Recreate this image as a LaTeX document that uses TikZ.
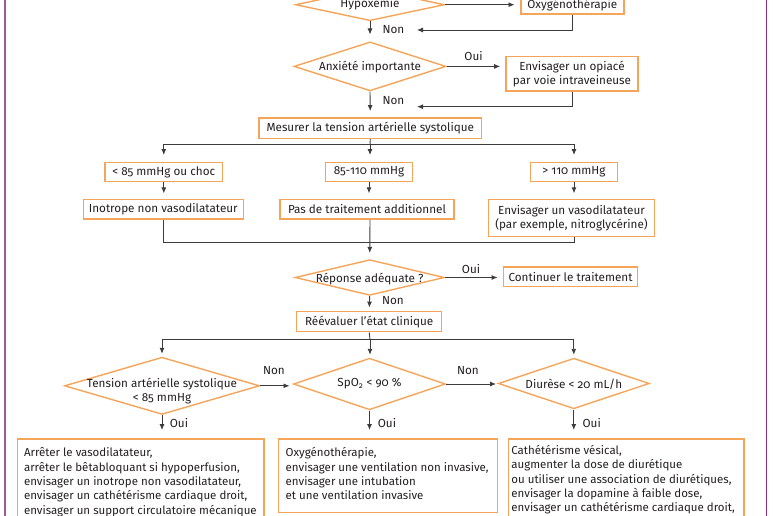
\documentclass[tikz,border=0pt]{standalone}
\usepackage{fontspec}
\setmainfont{Fira Sans}[Numbers=OldStyle]
\usetikzlibrary{shapes.geometric,arrows.meta}
\definecolor{org}{HTML}{F5A55A}
\definecolor{lnc}{HTML}{3C3C3C}
\definecolor{txt}{HTML}{231F20}
\definecolor{purL}{HTML}{9B5A9E}
\definecolor{purR}{HTML}{8B2F8E}
\newcommand{\ml}[1]{\mbox{#1}}
\begin{document}
\begin{tikzpicture}[x=1pt,y=-1pt,
  every node/.style={font=\fontsize{11.7}{14.4}\selectfont, text=txt},
  box/.style={draw=org, line width=1.4pt, inner sep=0pt, align=center},
  tbox/.style={draw=org, line width=1.4pt, anchor=north west, align=flush left, inner ysep=8.5pt, font=\fontsize{11.5}{14.4}\selectfont},
  dia/.style={diamond, draw=org, line width=1.4pt, inner sep=0pt},
  lbl/.style={inner sep=0pt, align=center},
  arr/.style={draw=lnc, line width=0.9pt, -{Latex[length=6pt,width=5pt]}},
  ln/.style={draw=lnc, line width=0.9pt},
]
\useasboundingbox (0,0) rectangle (773,516);
\clip (0,0) rectangle (773,516);
\draw[purL, line width=1.6pt] (5,0) -- (5,516);
\draw[purR, line width=1.3pt] (766.5,0) -- (766.5,516);

% top
\node[dia, minimum width=149pt, minimum height=32pt] (hyp) at (370,4.7) {};
\node[lbl] (hypt) at (370,4) {Hypoxémie};
\node[box, minimum width=103pt, minimum height=19pt] (oxy) at (572.4,4.7) {Oxygénothérapie};
\coordinate (r1) at (417,30);
\node[lbl] (non1) at (393.5,29.5) {Non};
\node[dia, minimum width=152pt, minimum height=49pt] (anx) at (370,66.4) {};
\node[lbl] (anxt) at (370,67) {Anxiété importante};
\node[lbl] (oui1) at (473.5,56.5) {Oui};
\node[box, minimum width=131.7pt, minimum height=34.3pt] (opi) at (572,73.8) {Envisager un opiacé\\par voie intraveineuse};
\coordinate (r2) at (417,106.7);
\node[lbl] (non2) at (393.5,100.5) {Non};
\node[box, minimum width=222.7pt, minimum height=20.3pt] (mes) at (370.3,128.2) {Mesurer la tension artérielle systolique};
\coordinate (j1) at (370,144.3);
\node[box, minimum width=117.3pt, minimum height=19.4pt] (lo) at (163.8,172) {< 85 mmHg ou choc};
\node[box, minimum width=87.3pt, minimum height=19.4pt] (mid) at (369,172) {85-110 mmHg};
\node[box, minimum width=86.7pt, minimum height=19.4pt] (hi) at (574,172) {> 110 mmHg};
\node[box, minimum width=160pt, minimum height=19.7pt] (ino) at (163.3,209.2) {Inotrope non vasodilatateur};
\node[box, minimum width=174pt, minimum height=19.7pt] (pas) at (367,209.2) {Pas de traitement additionnel};
\node[box, minimum width=165.6pt, minimum height=37.4pt] (vas) at (571.5,218) {Envisager un vasodilatateur\\(par exemple, nitroglycérine)};
\coordinate (j2) at (370,242.7);
\node[dia, minimum width=149.3pt, minimum height=35.7pt] (res) at (369.7,277.5) {};
\node[lbl] (rest) at (369.7,279) {Réponse adéquate ?};
\node[lbl] (oui2) at (471,269) {Oui};
\node[box, minimum width=134.4pt, minimum height=19.3pt] (cont) at (570.5,276.8) {Continuer le traitement};
\node[lbl] (non3) at (393,301) {Non};
\node[box, minimum width=145pt, minimum height=20pt] (ree) at (369.2,321.7) {Réévaluer l’état clinique};
\coordinate (j3) at (370,339.3);

% bottom diamonds
\node[dia, minimum width=195pt, minimum height=57.3pt] (tas) at (162,385.8) {};
\node[lbl, font=\fontsize{11.7}{14}\selectfont] (tast) at (162,391.5) {Tension artérielle systolique\\< 85 mmHg};
\node[dia, minimum width=152pt, minimum height=51.6pt] (spo) at (369.5,384) {};
\node[lbl] (spot) at (369.5,384) {SpO\textsubscript{2} < 90 \%};
\node[dia, minimum width=151pt, minimum height=50.6pt] (diu) at (573.8,383.5) {};
\node[lbl] (diut) at (573.8,384) {Diurèse < 20 mL/h};
\node[lbl] (non4) at (274,370.7) {Non};
\node[lbl] (non5) at (468,370.7) {Non};
\node[lbl] (oui3) at (179,423.3) {Oui};
\node[lbl] (oui4) at (387,423.3) {Oui};
\node[lbl] (oui5) at (591.7,423.3) {Oui};

% bottom boxes
\node[tbox, inner xsep=6.6pt, text width=233.4pt] (b1) at (16.7,438.3) {\ml{Arrêter le vasodilatateur,}\\\ml{arrêter le bêtabloquant si hypoperfusion,}\\\ml{envisager un inotrope non vasodilatateur,}\\\ml{envisager un cathétérisme cardiaque droit,}\\\ml{envisager un support circulatoire mécanique}};
\node[tbox, inner xsep=7.3pt, text width=204.4pt] (b2) at (277.7,438.3) {\ml{Oxygénothérapie,}\\\ml{envisager une ventilation non invasive,}\\\ml{envisager une intubation}\\\ml{et une ventilation invasive}\rule[-4pt]{0pt}{4pt}};
\node[tbox, inner xsep=3pt, inner ysep=6pt, text width=229.6pt] (b3) at (507.7,438.3) {\ml{Cathétérisme vésical,}\\\ml{augmenter la dose de diurétique}\\\ml{ou utiliser une association de diurétiques,}\\\ml{envisager la dopamine à faible dose,}\\\ml{envisager un cathétérisme cardiaque droit,}};

% connectors
\draw[arr, shorten >=5.7pt] (hyp.east) -- (hyp.east -| oxy.west);
\draw[arr, shorten >=6.7pt] (hyp.south) -- (anx.north);
\draw[arr] (oxy.south) |- (r1);
\draw[arr, shorten >=5.3pt] (anx.east) -- (anx.east -| opi.west);
\draw[arr] (opi.south) |- (r2);
\draw[arr, shorten >=6.3pt] (anx.south) -- (mes.north);
\draw[ln] (mes.south) -- (j1);
\draw[arr, shorten >=6.6pt] (j1) -| (lo.north);
\draw[arr, shorten >=6.6pt] (j1) -- (j1 |- mid.north);
\draw[arr, shorten >=6.6pt] (j1) -| (hi.north);
\draw[arr, shorten >=5.3pt] (lo.south) -- (lo.south |- ino.north);
\draw[arr, shorten >=5.3pt] (mid.south) -- (mid.south |- pas.north);
\draw[arr, shorten >=5.3pt] (hi.south) -- (hi.south |- vas.north);
\draw[ln] (lo.south |- ino.south) |- (j2) -| (hi.south |- vas.south);
\draw[arr, shorten >=6pt] (j2 |- pas.south) -- (res.north);
\draw[arr, shorten >=5pt] (res.east) -- (res.east -| cont.west);
\draw[arr, shorten >=3.4pt] (res.south) -- (ree.north);
\draw[ln] (ree.south) -- (j3);
\draw[arr, shorten >=2.7pt] (j3) -| (tas.north);
\draw[arr, shorten >=2.7pt] (j3) -- (j3 |- spo.north);
\draw[arr, shorten >=2.7pt] (j3) -| (diu.north);
\draw[arr, shorten >=3.3pt] (tas.east) -- (tas.east -| spo.west);
\draw[arr, shorten >=1.6pt] (spo.east) -- (spo.east -| diu.west);
\draw[arr, shorten >=8.3pt] (tas.south) -- (tas.south |- b1.north);
\draw[arr, shorten >=8.3pt] (spo.south) -- (spo.south |- b2.north);
\draw[arr, shorten >=8.3pt] (diu.south) -- (diu.south |- b3.north);
\end{tikzpicture}
\end{document}
